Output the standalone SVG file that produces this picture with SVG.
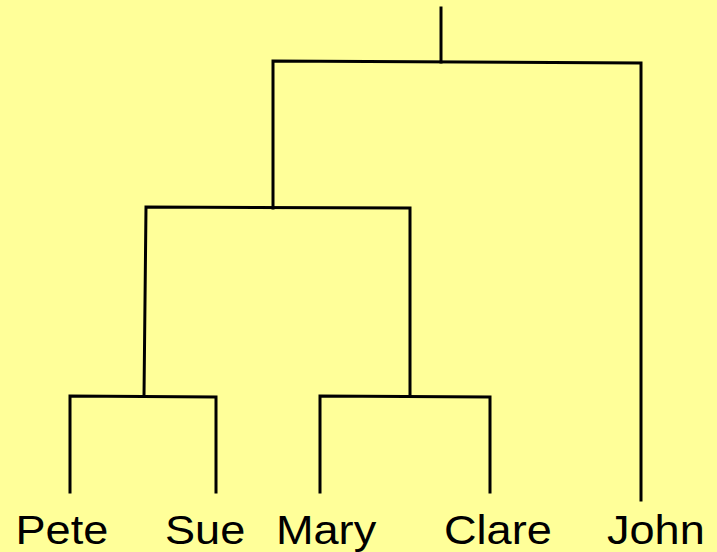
<svg xmlns="http://www.w3.org/2000/svg" width="717" height="552" viewBox="0 0 717 552">
<style>
.e{fill:none;stroke:#000;stroke-width:3;stroke-linecap:square;stroke-linejoin:miter}
.l{font-family:"Liberation Sans",Arial,sans-serif;font-size:41px;fill:#000}
</style>
<rect width="717" height="552" fill="#FFFF99"/>
<g id="connectors">
<polyline class="e" points="441,8 441,62"/>
<polyline class="e" points="273,208 273,61 641,63 641,500"/>
<polyline class="e" points="144,396 146,207 410,208 410,396"/>
<polyline class="e" points="70,492 70,396 216,397 216,492"/>
<polyline class="e" points="320,492 320,396 490,397 490,492"/>
</g>
<g id="pete"><text class="l" transform="translate(15.5,544) scale(1.1,1)">Pete</text></g>
<g id="sue"><text class="l" transform="translate(165,544) scale(1.1,1)">Sue</text></g>
<g id="mary"><text class="l" transform="translate(276,544) scale(1.1,1)">Mary</text></g>
<g id="clare"><text class="l" transform="translate(444,544) scale(1.1,1)">Clare</text></g>
<g id="john"><text class="l" transform="translate(607,544) scale(1.1,1)">John</text></g>
</svg>
